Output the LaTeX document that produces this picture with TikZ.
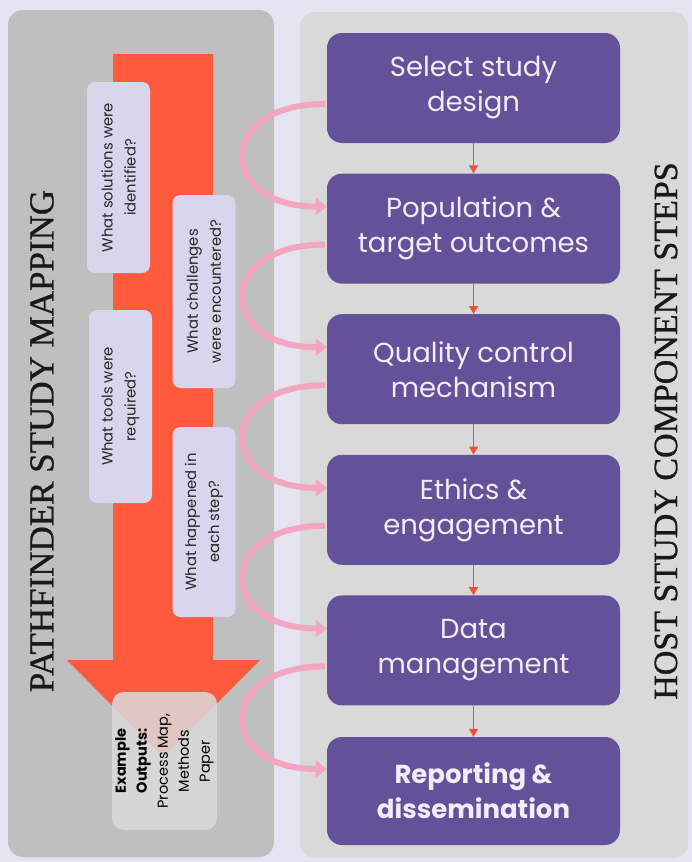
\documentclass[tikz,border=0pt]{standalone}
\usepackage{fontspec}
\setmainfont{Poppins}
\newfontfamily\titlefont[FakeBold=0.8]{Liberation Serif}
\usetikzlibrary{arrows.meta}
\definecolor{bgc}{HTML}{E6E3F3}
\definecolor{leftc}{HTML}{BFBFBF}
\definecolor{rightc}{HTML}{D9D9D9}
\definecolor{redc}{HTML}{FE5A3E}
\definecolor{purc}{HTML}{63519A}
\definecolor{quesc}{HTML}{D8D5EC}
\definecolor{pinkc}{HTML}{F3A6BF}
\definecolor{outc}{HTML}{DBDBDB}
\definecolor{boxtext}{HTML}{F1EDF9}
\definecolor{smallred}{HTML}{F0503A}
\tikzset{
  stepbox/.style={fill=purc, rounded corners=15pt, minimum width=293pt, minimum height=110pt,
    text=boxtext, align=center, font=\fontsize{27.5}{35}\selectfont, inner sep=0pt},
  quesbox/.style={fill=quesc, rounded corners=8pt, rotate=90, minimum height=63pt,
    align=center, font=\fontsize{14.8}{23}\selectfont, text=black!85, inner sep=0pt},
  loopline/.style={draw=pinkc, line width=6pt, -{Triangle[length=11pt,width=17pt]}},
  downarrow/.style={draw=smallred, line width=1.2pt, -{Triangle[length=8pt,width=9pt]}},
  titletext/.style={rotate=90, font=\titlefont\fontsize{35}{35}\selectfont, text=black!90}
}
\begin{document}
\begin{tikzpicture}[x=1pt,y=-1pt]
\useasboundingbox (0,0) rectangle (692,862);
\fill[bgc] (0,0) rectangle (692,862);
% panels
\fill[leftc, rounded corners=15pt] (8,10) rectangle (274,857);
\fill[rightc, rounded corners=15pt] (300,12) rectangle (688,858);
% big red arrow
\fill[redc] (113,54) -- (213,54) -- (213,660) -- (260,660) -- (163,757) -- (67,660) -- (113,660) -- cycle;
% question boxes
\node[quesbox, minimum width=191pt] (q1) at (118.5,177.5) {What solutions were\\identified?};
\node[quesbox, minimum width=193pt] (q2) at (204,291.5) {What challenges\\were encountered?};
\node[quesbox, minimum width=193pt] (q3) at (120.5,406.5) {What tools were\\required?};
\node[quesbox, minimum width=190pt] (q4) at (204,522) {What happened in\\each step?};
% output box
\node[fill=outc, fill opacity=0.85, text opacity=1, rounded corners=12pt, rotate=90,
  minimum width=138pt, minimum height=105pt, align=center, inner sep=0pt,
  font=\fontsize{14.5}{21}\selectfont, text=black] (out) at (164.5,761)
  {\textbf{Example}\\\textbf{Outputs:}\\Process Map,\\Methods\\Paper};
% titles
\node[titletext] (lt) at (42,441) {PATHFINDER STUDY MAPPING};
\node[titletext] (rt) at (666,431) {\fontsize{34}{34}\selectfont HOST STUDY COMPONENT STEPS};
% step boxes
\node[stepbox] (b1) at (473.5,88) {Select study\\design};
\node[stepbox] (b2) at (473.5,228.6) {Population \&\\target outcomes};
\node[stepbox] (b3) at (473.5,369.2) {Quality control\\mechanism};
\node[stepbox] (b4) at (473.5,509.8) {Ethics \&\\engagement};
\node[stepbox] (b5) at (473.5,650.4) {Data\\management};
\node[stepbox, minimum height=108pt, font=\bfseries\fontsize{26}{35}\selectfont] (b6) at (473.5,791) {Reporting \&\\dissemination};
% small red arrows
\foreach \a/\b in {b1/b2,b2/b3,b3/b4,b4/b5,b5/b6}
  \draw[downarrow] (\a.south) -- (\b.north);
% pink loops
\foreach \a/\b in {b1/b2,b2/b3,b3/b4,b4/b5,b5/b6}
  \draw[loopline] ([yshift=-16pt,xshift=-2pt]\a.west) .. controls +(-110,0) and +(-110,0) .. ([yshift=22pt]\b.west);
\end{tikzpicture}
\end{document}
